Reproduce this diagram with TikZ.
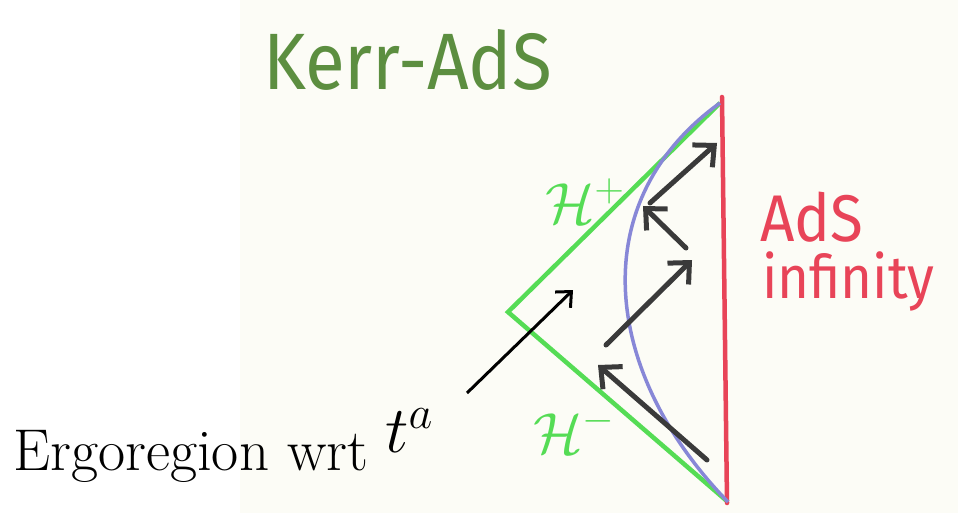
\RequirePackage{fix-cm}
\documentclass[tikz,border=0pt]{standalone}
\usepackage{fontspec}
\newfontfamily\handfont{Fira Sans}
\usetikzlibrary{arrows.meta}
\definecolor{paper}{RGB}{252,252,246}
\definecolor{horizongreen}{RGB}{85,220,85}
\definecolor{titlegreen}{RGB}{92,142,64}
\definecolor{bndred}{RGB}{232,68,88}
\definecolor{ergoblue}{RGB}{135,135,215}
\definecolor{flowgray}{RGB}{58,58,58}
\tikzset{
  horizon/.style={horizongreen, line width=4.5pt, line join=miter},
  boundary/.style={bndred, line width=4.5pt, line cap=round},
  ergo/.style={ergoblue, line width=3.5pt},
  flow/.style={flowgray, line width=5pt, line cap=round,
    -{Straight Barb[length=16pt, width=30pt, line width=5pt]}},
  pointer/.style={black, line width=3pt, -{Straight Barb[length=12pt, width=22pt, line width=3pt]}},
  handlabel/.style={inner sep=0pt, transform shape}
}
\begin{document}
\begin{tikzpicture}[x=1pt, y=-1pt]
    \useasboundingbox (0,0) rectangle (958,513);
    \fill[paper] (240,0) rectangle (958,513);
    % Penrose diagram corners
    \coordinate (top) at (720,103);
    \coordinate (left) at (508,312);
    \coordinate (bot) at (728,502);
    \coordinate (bndtop) at (722,97);
    \coordinate (bndbot) at (727,503);
    % Horizons
    \draw[horizon] (top) -- (left) -- (bot);
    % AdS boundary
    \draw[boundary] (bndtop) -- (bndbot);
    % Ergosurface
    \draw[ergo] (top) .. controls (585,200) and (600,370) .. (bot);
    % Flow of t^a
    \coordinate (f1s) at (707,460);
    \coordinate (f1e) at (598,365);
    \coordinate (f2s) at (606,345);
    \coordinate (f2e) at (692,260);
    \coordinate (f3s) at (686,248);
    \coordinate (f3e) at (643,206);
    \coordinate (f4s) at (650,203);
    \coordinate (f4e) at (717,143);
    \draw[flow] (f1s) -- (f1e);
    \draw[flow] (f2s) -- (f2e);
    \draw[flow] (f3s) -- (f3e);
    \draw[flow] (f4s) -- (f4e);
    % Labels
    \begin{scope}[xscale=0.91]
    \node[handlabel, text=titlegreen, anchor=base west, font=\handfont\fontsize{80}{80}\selectfont] (title) at (263/0.91,90) {Kerr-AdS};
    \node[handlabel, text=bndred, anchor=base west, text depth=0pt, font=\handfont\fontsize{66}{66}\selectfont] (ads) at (760/0.91,241) {AdS};
    \node[handlabel, text=bndred, anchor=base west, text height=38pt, font=\handfont\fontsize{60}{60}\selectfont] (infty) at (762/0.91,298) {infinity};
    \end{scope}
    \node[text=horizongreen, anchor=base west, inner sep=0pt] (hplus) at (545,223) {\fontsize{58}{58}\selectfont$\mathcal{H}^{+}$};
    \node[text=horizongreen, anchor=base west, inner sep=0pt] (hminus) at (533,453) {\fontsize{58}{58}\selectfont$\mathcal{H}^{-}$};
    \node[anchor=base west, inner sep=0pt, font=\fontsize{59}{59}\selectfont] (ergo) at (13,470) {Ergoregion wrt};
    \node[anchor=base west, inner sep=0pt] (ta) at (385,452) {\fontsize{66}{66}\selectfont$t^{a}$};
    \coordinate (region) at (573,290);
    \draw[pointer] (467,393) -- (region);
\end{tikzpicture}
\end{document}
